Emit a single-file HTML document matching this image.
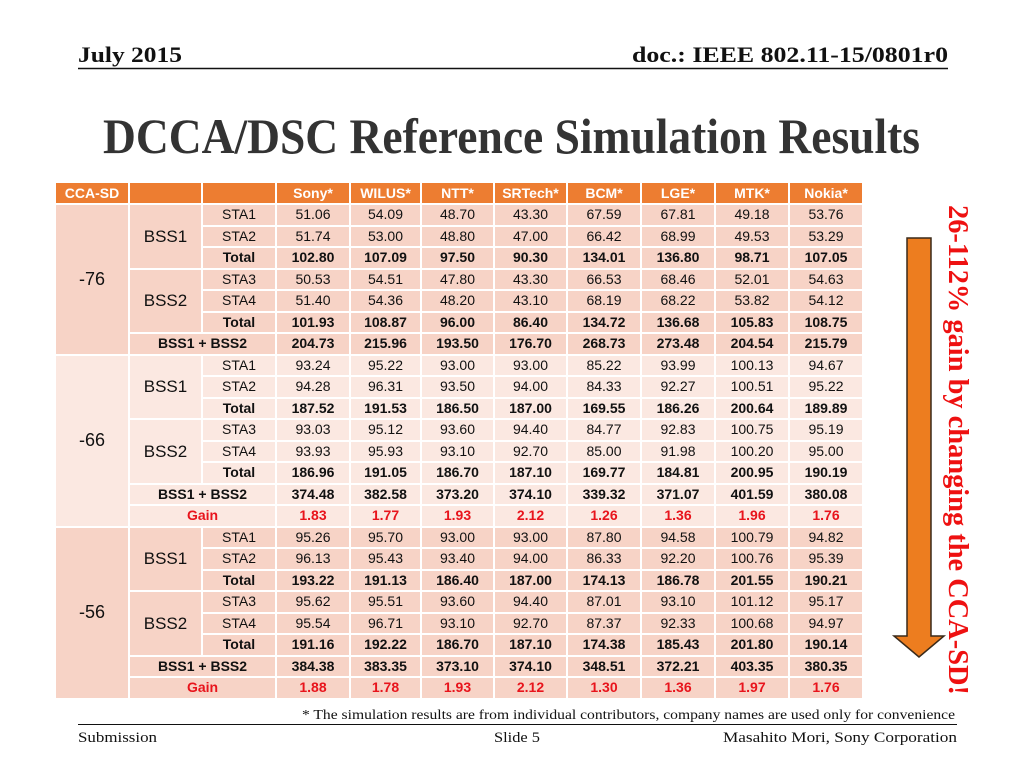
<!DOCTYPE html>
<html><head><meta charset="utf-8">
<style>
html,body{margin:0;padding:0;background:#fff;}
body{width:1024px;height:768px;position:relative;overflow:hidden;font-family:"Liberation Sans",sans-serif;}
#tbl{position:absolute;left:54px;top:181px;border-collapse:separate;border-spacing:2px;table-layout:fixed;}
#tbl td{padding:0;height:19.5px;text-align:center;font-size:14px;color:#111;white-space:nowrap;line-height:19px;}
#tbl tr.hdr td{background:#ED7D31;color:#fff;font-weight:bold;height:20px;}
#tbl td.big{font-size:17px;}
#tbl td.cca{font-size:18px;}
.s1 td{background:#F7D3C6;}
.s2 td{background:#FBE8E1;}
.s3 td{background:#F7D3C6;}
#tbl tr.b td{font-weight:bold;}
#tbl tr.g td{font-weight:bold;color:#e8141c;}
svg{position:absolute;left:0;top:0;}
</style></head>
<body>
<svg width="1024" height="768">
  <text x="78" y="62" font-family="Liberation Serif" font-weight="bold" font-size="22" textLength="104" lengthAdjust="spacingAndGlyphs" fill="#111">July 2015</text>
  <text x="632" y="62" font-family="Liberation Serif" font-weight="bold" font-size="22" textLength="316" lengthAdjust="spacingAndGlyphs" fill="#111">doc.: IEEE 802.11-15/0801r0</text>
  <line x1="78" y1="68.5" x2="948" y2="68.5" stroke="#111" stroke-width="1.5"/>
  <text x="103" y="153" font-family="Liberation Serif" font-weight="bold" font-size="50" textLength="817" lengthAdjust="spacingAndGlyphs" fill="#333">DCCA/DSC Reference Simulation Results</text>
  <text x="302" y="719" font-family="Liberation Serif" font-size="14" textLength="653" lengthAdjust="spacingAndGlyphs" fill="#111">* The simulation results are from individual contributors, company names are used only for convenience</text>
  <line x1="78" y1="724.5" x2="957" y2="724.5" stroke="#111" stroke-width="1"/>
  <text x="78" y="742" font-family="Liberation Serif" font-size="15" textLength="79" lengthAdjust="spacingAndGlyphs" fill="#111">Submission</text>
  <text x="494" y="742" font-family="Liberation Serif" font-size="15" textLength="46" lengthAdjust="spacingAndGlyphs" fill="#111">Slide 5</text>
  <text x="723" y="742" font-family="Liberation Serif" font-size="15" textLength="234" lengthAdjust="spacingAndGlyphs" fill="#111">Masahito Mori, Sony Corporation</text>
  <polygon points="907,238 931,238 931,636 944,636 919,657 894,636 907,636" fill="#ED7D1F" stroke="#3a2a1a" stroke-width="1.5"/>
  <text transform="translate(949,205) rotate(90)" x="0" y="0" font-family="Liberation Serif" font-weight="bold" font-size="28" textLength="490" lengthAdjust="spacingAndGlyphs" fill="#ee1111">26-112% gain by changing the CCA-SD!</text>
</svg>
<table id="tbl">
<colgroup><col style="width:72px"><col style="width:71px"><col style="width:72px"><col style="width:72px"><col style="width:69px"><col style="width:71px"><col style="width:71px"><col style="width:72px"><col style="width:72px"><col style="width:72px"><col style="width:72px"></colgroup>
<tbody id="tb"></tbody>
</table>
<script>
const companies = ["Sony*","WILUS*","NTT*","SRTech*","BCM*","LGE*","MTK*","Nokia*"];
const ccaLevels = ["-76","-66","-56"];
const rowLabels = ["STA1","STA2","Total","STA3","STA4","Total","BSS1 + BSS2","Gain"];
const sec76 = [
 ["51.06","54.09","48.70","43.30","67.59","67.81","49.18","53.76"],
 ["51.74","53.00","48.80","47.00","66.42","68.99","49.53","53.29"],
 ["102.80","107.09","97.50","90.30","134.01","136.80","98.71","107.05"],
 ["50.53","54.51","47.80","43.30","66.53","68.46","52.01","54.63"],
 ["51.40","54.36","48.20","43.10","68.19","68.22","53.82","54.12"],
 ["101.93","108.87","96.00","86.40","134.72","136.68","105.83","108.75"],
 ["204.73","215.96","193.50","176.70","268.73","273.48","204.54","215.79"]
];
const sec66 = [
 ["93.24","95.22","93.00","93.00","85.22","93.99","100.13","94.67"],
 ["94.28","96.31","93.50","94.00","84.33","92.27","100.51","95.22"],
 ["187.52","191.53","186.50","187.00","169.55","186.26","200.64","189.89"],
 ["93.03","95.12","93.60","94.40","84.77","92.83","100.75","95.19"],
 ["93.93","95.93","93.10","92.70","85.00","91.98","100.20","95.00"],
 ["186.96","191.05","186.70","187.10","169.77","184.81","200.95","190.19"],
 ["374.48","382.58","373.20","374.10","339.32","371.07","401.59","380.08"],
 ["1.83","1.77","1.93","2.12","1.26","1.36","1.96","1.76"]
];
const sec56 = [
 ["95.26","95.70","93.00","93.00","87.80","94.58","100.79","94.82"],
 ["96.13","95.43","93.40","94.00","86.33","92.20","100.76","95.39"],
 ["193.22","191.13","186.40","187.00","174.13","186.78","201.55","190.21"],
 ["95.62","95.51","93.60","94.40","87.01","93.10","101.12","95.17"],
 ["95.54","96.71","93.10","92.70","87.37","92.33","100.68","94.97"],
 ["191.16","192.22","186.70","187.10","174.38","185.43","201.80","190.14"],
 ["384.38","383.35","373.10","374.10","348.51","372.21","403.35","380.35"],
 ["1.88","1.78","1.93","2.12","1.30","1.36","1.97","1.76"]
];
const sections = [sec76, sec66, sec56];
const tb = document.getElementById('tb');
function cell(tr, text, cls, name){
  const td = document.createElement('td');
  td.textContent = text;
  if (cls) td.className = cls;
  
  
  tr.appendChild(td);
  return td;
}
// header
const hr = document.createElement('tr');
hr.className = 'hdr';


cell(hr, 'CCA-SD', '', 'header-cca-sd');
cell(hr, '', '', 'header-bss');
cell(hr, '', '', 'header-sta');
companies.forEach(c => cell(hr, c, '', 'header-company'));
tb.appendChild(hr);
sections.forEach((sec, si) => {
  sec.forEach((vals, ri) => {
    const tr = document.createElement('tr');
    tr.className = 's' + (si + 1);
    const lab = rowLabels[ri];
    if (lab === 'Total' || lab === 'BSS1 + BSS2') tr.classList.add('b');
    if (lab === 'Gain') tr.classList.add('g');
    
    
    if (ri === 0) {
      const c = cell(tr, ccaLevels[si], 'cca', 'cca-sd-label');
      c.rowSpan = sec.length;
    }
    if (ri === 0 || ri === 3) {
      const b = cell(tr, ri === 0 ? 'BSS1' : 'BSS2', 'big', 'bss-label');
      b.rowSpan = 3;
      b.style.fontWeight = 'normal';
      b.style.color = '#111';
    }
    if (ri < 6) {
      cell(tr, lab, '', 'sta-label');
    } else {
      const c = cell(tr, lab, '', 'row-label');
      c.colSpan = 2;
    }
    vals.forEach(v => cell(tr, v, '', 'value-cell'));
    tb.appendChild(tr);
  });
});
</script>
</body></html>
